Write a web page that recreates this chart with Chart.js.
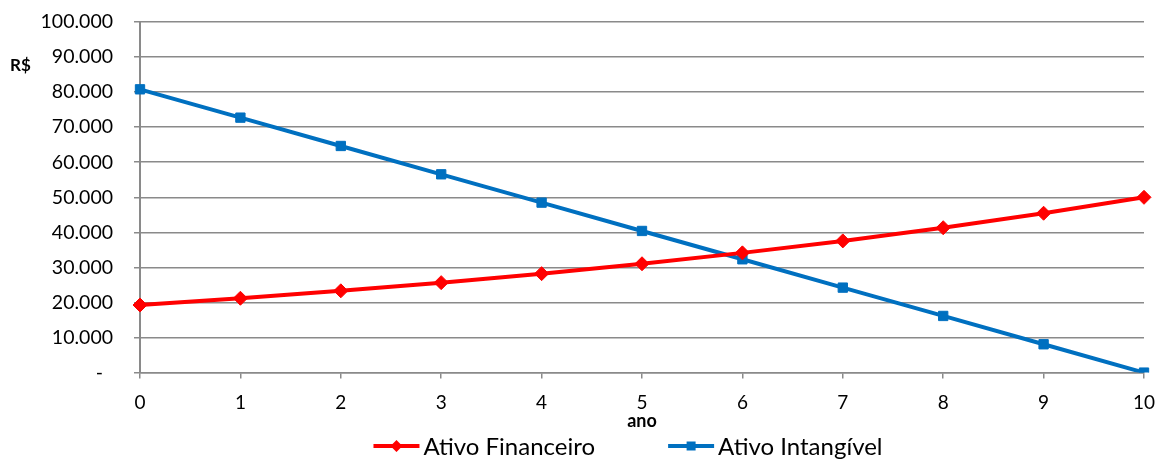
<!DOCTYPE html>
<html>
<head>
<meta charset="utf-8">
<script src="https://cdn.jsdelivr.net/npm/chart.js@4.4.1/dist/chart.umd.min.js"></script>
<style>
  html, body { margin: 0; padding: 0; background: #ffffff; }
  canvas { display: block; }
</style>
</head>
<body>
<canvas id="grafico" width="1158" height="459"></canvas>
<script>
// Anos do horizonte de análise
const anos = ['0', '1', '2', '3', '4', '5', '6', '7', '8', '9', '10'];

// Valores em R$ por ano
const ativoFinanceiro = [19277, 21205, 23326, 25658, 28224, 31046, 34151, 37566, 41323, 45455, 50000];
const ativoIntangivel = [80800, 72720, 64640, 56560, 48480, 40400, 32320, 24240, 16160, 8080, 0];

// Rótulos do eixo de valores (formato contábil)
const rotulosY = ['-  ', '10.000', '20.000', '30.000', '40.000', '50.000', '60.000', '70.000', '80.000', '90.000', '100.000'];

const FONTE = 'Lato, "Open Sans", sans-serif';
const CINZA = '#8a8a8a';
const VERMELHO = '#ff0000';
const AZUL = '#0070c0';

// Título do eixo vertical, escrito na horizontal
const tituloEixoY = {
  id: 'tituloEixoY',
  afterDraw(chart) {
    const ctx = chart.ctx;
    ctx.save();
    ctx.font = 'bold 17px ' + FONTE;
    ctx.fillStyle = '#000';
    ctx.textAlign = 'left';
    ctx.textBaseline = 'middle';
    ctx.fillText('R$', 10, 66);
    ctx.restore();
  }
};

// Legenda inferior: traço com marcador seguido do nome da série
const legendaInferior = {
  id: 'legendaInferior',
  afterDraw(chart) {
    const ctx = chart.ctx;
    const area = chart.chartArea;
    const tracoLarg = 46, espTexto = 4, espItens = 73;
    ctx.save();
    ctx.font = '24px ' + FONTE;
    const itens = chart.data.datasets.map((ds, i) => ({
      ds, i, largTexto: ctx.measureText(ds.label).width
    }));
    let total = 0;
    itens.forEach((it, k) => {
      total += tracoLarg + espTexto + it.largTexto + (k < itens.length - 1 ? espItens : 0);
    });
    const centro = (area.left + area.right) / 2 - 14;
    const y = 446;
    let x = centro - total / 2;
    itens.forEach(it => {
      const cor = it.ds.borderColor;
      ctx.strokeStyle = cor;
      ctx.fillStyle = cor;
      ctx.lineWidth = 4;
      ctx.beginPath();
      ctx.moveTo(x, y); ctx.lineTo(x + tracoLarg, y);
      ctx.stroke();
      const cx = x + tracoLarg / 2;
      ctx.beginPath();
      if (it.ds.pointStyle === 'rectRot') {
        ctx.moveTo(cx, y - 6); ctx.lineTo(cx + 6, y); ctx.lineTo(cx, y + 6); ctx.lineTo(cx - 6, y);
      } else {
        ctx.rect(cx - 4.5, y - 4.5, 9, 9);
      }
      ctx.closePath();
      ctx.fill();
      ctx.fillStyle = '#000';
      ctx.textAlign = 'left';
      ctx.textBaseline = 'middle';
      ctx.fillText(it.ds.label, x + tracoLarg + espTexto, y + 1);
      x += tracoLarg + espTexto + it.largTexto + espItens;
    });
    ctx.restore();
  }
};

new Chart(document.getElementById('grafico'), {
  type: 'line',
  data: {
    labels: anos,
    datasets: [
      {
        label: 'Ativo Financeiro',
        data: ativoFinanceiro,
        borderColor: VERMELHO,
        backgroundColor: VERMELHO,
        borderWidth: 4,
        pointStyle: 'rectRot',
        pointRadius: 7,
        pointBorderWidth: 1,
        tension: 0
      },
      {
        label: 'Ativo Intangível',
        data: ativoIntangivel,
        borderColor: AZUL,
        backgroundColor: AZUL,
        borderWidth: 4,
        pointStyle: 'rect',
        pointRadius: 6.6,
        pointBorderWidth: 1,
        tension: 0
      }
    ]
  },
  options: {
    responsive: false,
    animation: false,
    layout: { padding: { left: 0, right: 14, top: 22, bottom: 27 } },
    plugins: {
      tooltip: { enabled: false },
      legend: { display: false }
    },
    scales: {
      x: {
        type: 'category',
        offset: false,
        afterFit(scale) { scale.paddingLeft = 0; scale.paddingRight = 10; },
        grid: { drawOnChartArea: false, drawTicks: true, tickLength: 6, color: CINZA, lineWidth: 1.5 },
        border: { display: true, color: CINZA, width: 1.5 },
        ticks: { font: { family: FONTE, size: 19 }, color: '#000', padding: 13, maxRotation: 0 },
        title: { display: true, text: 'ano', font: { family: FONTE, size: 18, weight: 'bold' }, color: '#000', padding: { top: -17, bottom: 0 } }
      },
      y: {
        min: 0,
        max: 100000,
        afterFit(scale) {
          scale.width = 140;
          scale.paddingTop = 12;
          scale.paddingBottom = 12;
        },
        afterBuildTicks(scale) {
          scale.ticks = rotulosY.map((_, i) => ({ value: i * 10000 }));
        },
        grid: { color: CINZA, lineWidth: 1.5, drawTicks: true, tickLength: 6 },
        border: { display: true, color: CINZA, width: 2 },
        ticks: {
          font: { family: FONTE, size: 19.5 },
          color: '#000',
          padding: 21,
          callback(value, index) { return rotulosY[index]; }
        }
      }
    }
  },
  plugins: [tituloEixoY, legendaInferior]
});
</script>
</body>
</html>
